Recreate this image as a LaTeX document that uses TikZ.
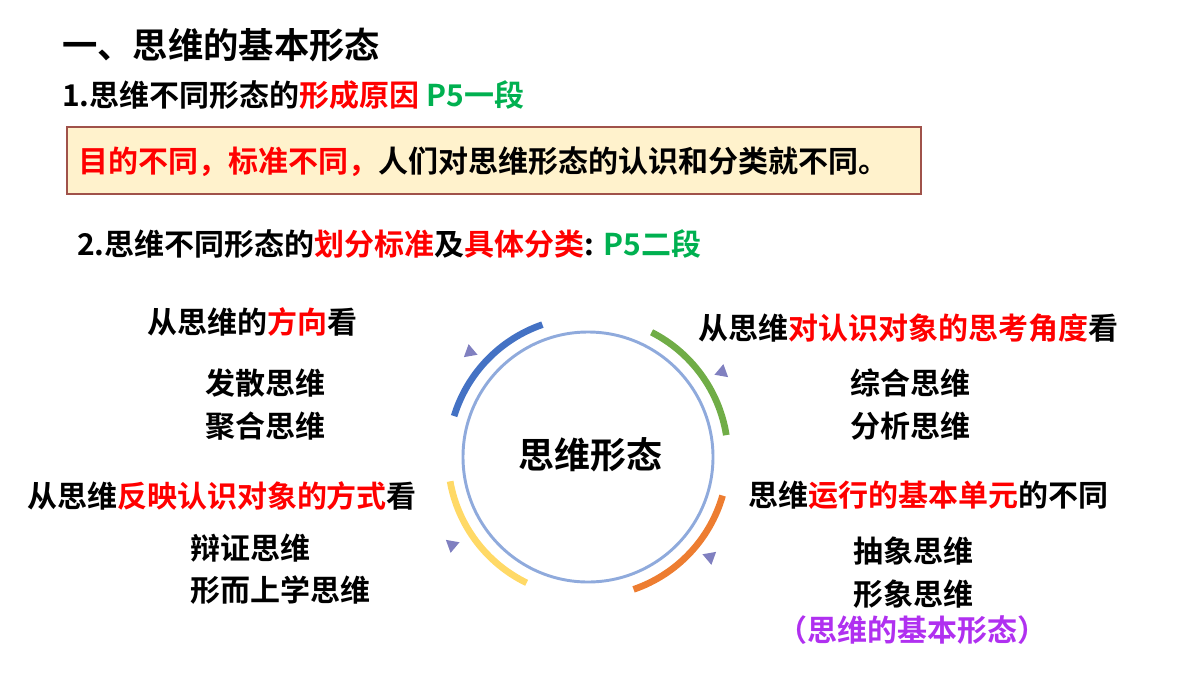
\documentclass[tikz,border=0pt]{standalone}
\usepackage{fontspec}
\setmainfont{Noto Sans CJK SC}[BoldFont=Noto Sans CJK SC Bold]
\usetikzlibrary{shapes.geometric}
\definecolor{hired}{HTML}{FF0000}
\definecolor{higreen}{HTML}{00B050}
\definecolor{hipurple}{HTML}{B030F0}
\definecolor{boxfill}{HTML}{FFF2CC}
\definecolor{boxline}{HTML}{A0524A}
\definecolor{ringblue}{HTML}{8FAADC}
\definecolor{arcblue}{HTML}{4472C4}
\definecolor{arcgreen}{HTML}{70AD47}
\definecolor{arcorange}{HTML}{ED7D31}
\definecolor{arcyellow}{HTML}{FFD966}
\definecolor{tipcol}{HTML}{8080C0}
\tikzset{
  txt/.style={font=\bfseries\fontsize{22.5}{26}\selectfont,inner sep=0pt},
  tip/.style={regular polygon,regular polygon sides=3,fill=tipcol,minimum size=12pt,inner sep=0pt}
}
\newcommand{\hr}[1]{\textcolor{hired}{#1}}
\begin{document}
\begin{tikzpicture}[x=0.75pt,y=-0.75pt]
\useasboundingbox (0,0) rectangle (1200,675);
\node[txt,anchor=west,font=\bfseries\fontsize{26.5}{30}\selectfont] (title) at (62,45) {一、思维的基本形态};
\node[txt,anchor=west] (reason) at (62,95) {1.思维不同形态的\hr{形成原因} \textcolor{higreen}{P5一段}};
\draw[boxline,line width=2.2pt,fill=boxfill] (67,127) rectangle (921,194);
\node[txt,anchor=west] (cause) at (78,162) {\hr{目的不同，标准不同，}人们对思维形态的认识和分类就不同。};
\node[txt,anchor=west] (rule) at (77,244) {2.思维不同形态的\hr{划分标准}及\hr{具体分类}: \textcolor{higreen}{P5二段}};
% circle
\draw[ringblue,line width=2.2pt] (588,457) circle (125);
\node[txt,font=\bfseries\fontsize{27}{32}\selectfont] (core) at (590,455) {思维形态};
\draw[arcblue,line width=5pt] (588,457) ++(-163:140) arc (-163:-109:140);
\draw[arcgreen,line width=5pt] (588,457) ++(-63:140) arc (-63:-9:140);
\draw[arcorange,line width=5pt] (588,457) ++(16:140) arc (16:71:140);
\draw[arcyellow,line width=5pt] (588,457) ++(170:140) arc (170:116:140);
\node[tip,rotate=10] (t1) at (470,352) {};
\node[tip,rotate=110] (t2) at (722,372) {};
\node[tip,rotate=-70] (t3) at (452,545) {};
\node[tip,rotate=-170] (t4) at (710,557) {};
% left top
\node[txt] (dir) at (252,322) {从思维的\hr{方向}看};
\node[txt] (diverge) at (265,383) {发散思维};
\node[txt] (converge) at (265,426) {聚合思维};
% left bottom
\node[txt] (way) at (222,496) {从思维\hr{反映认识对象的方式}看};
\node[txt,anchor=west] (dialect) at (190,548) {辩证思维};
\node[txt,anchor=west] (meta) at (190,590) {形而上学思维};
% right top
\node[txt,anchor=west] (angle) at (698,328) {从思维\hr{对认识对象的思考角度}看};
\node[txt,anchor=west] (synth) at (850,383) {综合思维};
\node[txt,anchor=west] (anal) at (850,426) {分析思维};
% right bottom
\node[txt,anchor=west] (unit) at (748,495) {思维\hr{运行的基本单元}的不同};
\node[txt,anchor=west] (abstr) at (853,551) {抽象思维};
\node[txt,anchor=west] (image) at (853,594) {形象思维};
\node[txt,text=hipurple] (basic) at (912,630) {（思维的基本形态）};
\end{tikzpicture}
\end{document}
